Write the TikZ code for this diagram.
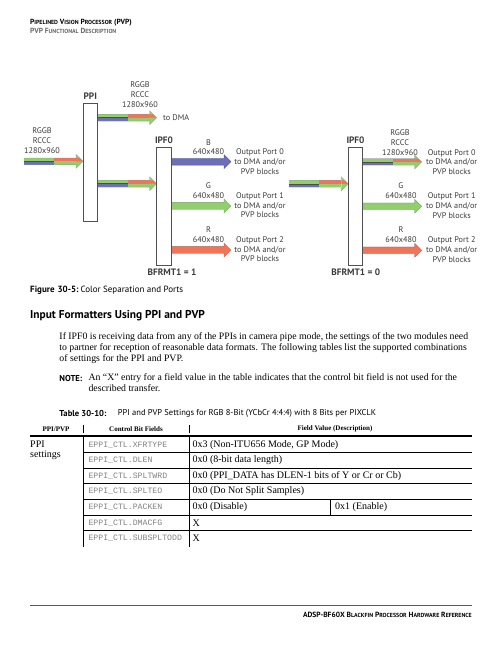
\documentclass[tikz,border=0pt]{standalone}
\usepackage{fontspec}
\setmainfont{Liberation Serif}
\newfontfamily\dsans{PT Sans}
\newfontfamily\dmono{Liberation Mono}
\definecolor{ar}{HTML}{F0735A}
\definecolor{ag}{HTML}{90CE6E}
\definecolor{ab}{HTML}{6C6FB5}
\definecolor{txt}{HTML}{3A3A3A}
\definecolor{boxc}{HTML}{505050}
\newcommand\SC[1]{{\fontsize{5.9}{6}\selectfont #1}}
\newcommand\monoarrow[4]{%
  \filldraw[draw=#4!75!black, fill=#4, line width=0.3pt]
   (#1,{#3-3.4}) -- ({#2-7},{#3-3.4}) -- ({#2-7},{#3-7}) -- (#2,#3) --
   ({#2-7},{#3+7}) -- ({#2-7},{#3+3.4}) -- (#1,{#3+3.4}) -- cycle;}
\newcommand\duoarrow[4]{%
  \fill[ag] (#1,{#4-3.4}) rectangle (#2,#4);
  \fill[ab] (#1,#4) rectangle (#2,{#4+3.4});
  \fill[ar] (#2,{#4-3.4}) rectangle ({#3-7},#4);
  \fill[ag] (#2,#4) rectangle ({#3-7},{#4+3.4});
  \fill[ag] ({#3-7},{#4-7}) -- (#3,#4) -- ({#3-7},{#4+7}) -- cycle;
  \fill[ar] ({#3-7},{#4-3.4}) -- ({#3-3.4},{#4-3.4}) -- (#3,#4) -- ({#3-7},#4) -- cycle;
  \draw[black!70, line width=0.6pt] (#1,#4) -- (#2,#4);
  \draw[black!40, line width=0.3pt] (#1,{#4-3.4}) -- ({#3-7},{#4-3.4}) -- ({#3-7},{#4-7}) -- (#3,#4)
    -- ({#3-7},{#4+7}) -- ({#3-7},{#4+3.4}) -- (#1,{#4+3.4});}
\begin{document}
\begin{tikzpicture}[x=1pt,y=-1pt,
  lbl/.style={font=\dsans\fontsize{8.2}{9.8}\selectfont, text=txt, align=center, inner sep=0},
  bl/.style={font=\dsans\bfseries\fontsize{9.3}{10}\selectfont, text=txt, inner sep=0},
  blk/.style={draw=boxc, fill=white, line width=0.9pt, inner sep=0},
  body/.style={font=\fontsize{9.8}{11}\selectfont, anchor=west, inner sep=0},
  mono/.style={font=\dmono\fontsize{8.2}{9}\selectfont, text=black!50, anchor=west, inner sep=0},
  val/.style={font=\fontsize{10}{11}\selectfont, anchor=west, inner sep=0},
  th/.style={font=\bfseries\fontsize{7}{8}\selectfont, inner sep=0},
  tline/.style={line width=0.7pt}]
\useasboundingbox (0,0) rectangle (502,649);
% header
\node[anchor=west, inner sep=0, font=\dsans\bfseries\fontsize{7.4}{8}\selectfont] (h1) at (30,22.7)
  {P\SC{IPELINED} V\SC{ISION} P\SC{ROCESSOR} (PVP)};
\node[anchor=west, inner sep=0, text=black!60, font=\dsans\bfseries\fontsize{7.4}{8}\selectfont] (h2) at (30,30.7)
  {PVP F\SC{UNCTIONAL} D\SC{ESCRIPTION}};
% arrows
\duoarrow{24}{53.5}{83}{161.3}
\duoarrow{98}{127.7}{156.7}{117.7}
\duoarrow{98}{127.7}{156.7}{183.7}
\monoarrow{171}{231}{161.7}{ab}
\monoarrow{171}{231}{206}{ag}
\monoarrow{171}{231}{250}{ar}
\duoarrow{289.3}{319.3}{348.3}{183.8}
\duoarrow{362.7}{392.7}{421.7}{162}
\monoarrow{362.7}{421.7}{206.3}{ag}
\monoarrow{362.7}{421.7}{250.3}{ar}
% boxes
\node[blk, minimum width=14.7pt, minimum height=118pt] (ppi) at (90.3,162) {};
\node[blk, minimum width=14.3pt, minimum height=117.7pt] (ipfa) at (163.85,206.15) {};
\node[blk, minimum width=14.3pt, minimum height=117.7pt] (ipfb) at (355.5,206.15) {};
\node[bl] (ppil) at (90.3,95.7) {PPI};
\node[bl] (ipfal) at (164,140) {IPF0};
\node[bl] (ipfbl) at (355.5,140) {IPF0};
\node[bl] (bf1) at (172,272.7) {BFRMT1 = 1};
\node[bl] (bf0) at (355.7,272.7) {BFRMT1 = 0};
% labels
\node[lbl] (l1) at (42,140.7) {RGGB\\RCCC\\1280x960};
\node[lbl] (l2) at (140,94.5) {RGGB\\RCCC\\1280x960};
\node[lbl, anchor=west] (l3) at (163,117.3) {to DMA};
\node[lbl] (l4) at (208.5,147.2) {B\\640x480};
\node[lbl] (l5) at (208.5,190.7) {G\\640x480};
\node[lbl] (l6) at (208.5,235) {R\\640x480};
\node[lbl] (o0) at (260,161.7) {Output Port 0\\to DMA and/or\\PVP blocks};
\node[lbl] (o1) at (260,205.3) {Output Port 1\\to DMA and/or\\PVP blocks};
\node[lbl] (o2) at (260,249.3) {Output Port 2\\to DMA and/or\\PVP blocks};
\node[lbl] (r1) at (400,142.5) {RGGB\\RCCC\\1280x960};
\node[lbl] (r2) at (401,190.7) {G\\640x480};
\node[lbl] (r3) at (401,235) {R\\640x480};
\node[lbl] (q0) at (451.7,162) {Output Port 0\\to DMA and/or\\PVP blocks};
\node[lbl] (q1) at (451.7,205.5) {Output Port 1\\to DMA and/or\\PVP blocks};
\node[lbl] (q2) at (451.7,249.5) {Output Port 2\\to DMA and/or\\PVP blocks};
% caption
\node[anchor=west, inner sep=0, font=\dsans\fontsize{9}{10}\selectfont] (cap) at (30,290)
  {\textbf{Figure\hspace{3pt}30-5:}\hspace{2pt}Color Separation and Ports};
\node[anchor=west, inner sep=0, font=\dsans\bfseries\fontsize{11.4}{12}\selectfont] (sec) at (30,316)
  {Input Formatters Using PPI and PVP};
\node[body] (p1) at (59.3,336.7) {\makebox[408.7pt][s]{If IPF0 is receiving data from any of the PPIs in camera pipe mode, the settings of the two modules need}};
\node[body] (p2) at (59.3,347.7) {\makebox[407.4pt][s]{to partner for reception of reasonable data formats. The following tables list the supported combinations}};
\node[body] (p3) at (59.3,359) {of settings for the PPI and PVP.};
\node[anchor=west, inner sep=0, font=\dsans\bfseries\fontsize{8.6}{9}\selectfont] (note) at (59.3,378.3) {NOTE:};
\node[body] (n1) at (88.3,378.3) {An “X” entry for a field value in the table indicates that the control bit field is not used for the};
\node[body] (n2) at (88.3,388.3) {described transfer.};
\node[anchor=west, inner sep=0, font=\dsans\bfseries\fontsize{8.6}{9}\selectfont] (tcap) at (59.3,413.3) {Table 30-10:};
\node[anchor=west, inner sep=0, font=\dsans\fontsize{8.5}{9}\selectfont] (tcap2) at (117.7,413.3)
  {PPI and PVP Settings for RGB 8-Bit (YCbCr 4:4:4) with 8 Bits per PIXCLK};
% table
\node[th] (t1) at (56,429.3) {PPI/PVP};
\node[th] (t2) at (136,429.3) {Control Bit Fields};
\node[th] (t3) at (335,429.3) {Field Value (Description)};
\draw[tline] (83.3,425) -- (83.3,433.3);
\draw[tline] (189,425) -- (189,433.3);
\draw[line width=1.8pt] (30,436) -- (472,436);
\foreach \yy in {452,468,483.5,499,515,530.5} \draw[tline] (83.3,\yy) -- (472,\yy);
\draw[tline] (83.3,436) -- (83.3,547.3);
\draw[tline] (189,436) -- (189,547.3);
\draw[tline] (330,499) -- (330,515);
\node[val] (c0) at (30,444.7) {PPI};
\node[val] (c0b) at (30,455.5) {settings};
\node[mono] (m1) at (88.3,444.7) {EPPI\_CTL.XFRTYPE};
\node[mono] (m2) at (88.3,460.5) {EPPI\_CTL.DLEN};
\node[mono] (m3) at (88.3,476) {EPPI\_CTL.SPLTWRD};
\node[mono] (m4) at (88.3,491.5) {EPPI\_CTL.SPLTEO};
\node[mono] (m5) at (88.3,507) {EPPI\_CTL.PACKEN};
\node[mono] (m6) at (88.3,523) {EPPI\_CTL.DMACFG};
\node[mono] (m7) at (88.3,538) {EPPI\_CTL.SUBSPLTODD};
\node[val] (v1) at (192.3,444.7) {0x3 (Non-ITU656 Mode, GP Mode)};
\node[val] (v2) at (192.3,460.5) {0x0 (8-bit data length)};
\node[val] (v3) at (192.3,476) {0x0 (PPI\_DATA has DLEN-1 bits of Y or Cr or Cb)};
\node[val] (v4) at (192.3,491.5) {0x0 (Do Not Split Samples)};
\node[val] (v5) at (192.3,507) {0x0 (Disable)};
\node[val] (v5b) at (335,507) {0x1 (Enable)};
\node[val] (v6) at (192.3,523) {X};
\node[val] (v7) at (192.3,538) {X};
% footer
\draw[black!65, line width=1pt] (30,605) -- (472,605);
\node[anchor=east, inner sep=0, font=\dsans\bfseries\fontsize{7.5}{8}\selectfont] (foot) at (472,615)
  {ADSP-BF60X B\SC{LACKFIN} P\SC{ROCESSOR} H\SC{ARDWARE} R\SC{EFERENCE}};
\end{tikzpicture}
\end{document}
